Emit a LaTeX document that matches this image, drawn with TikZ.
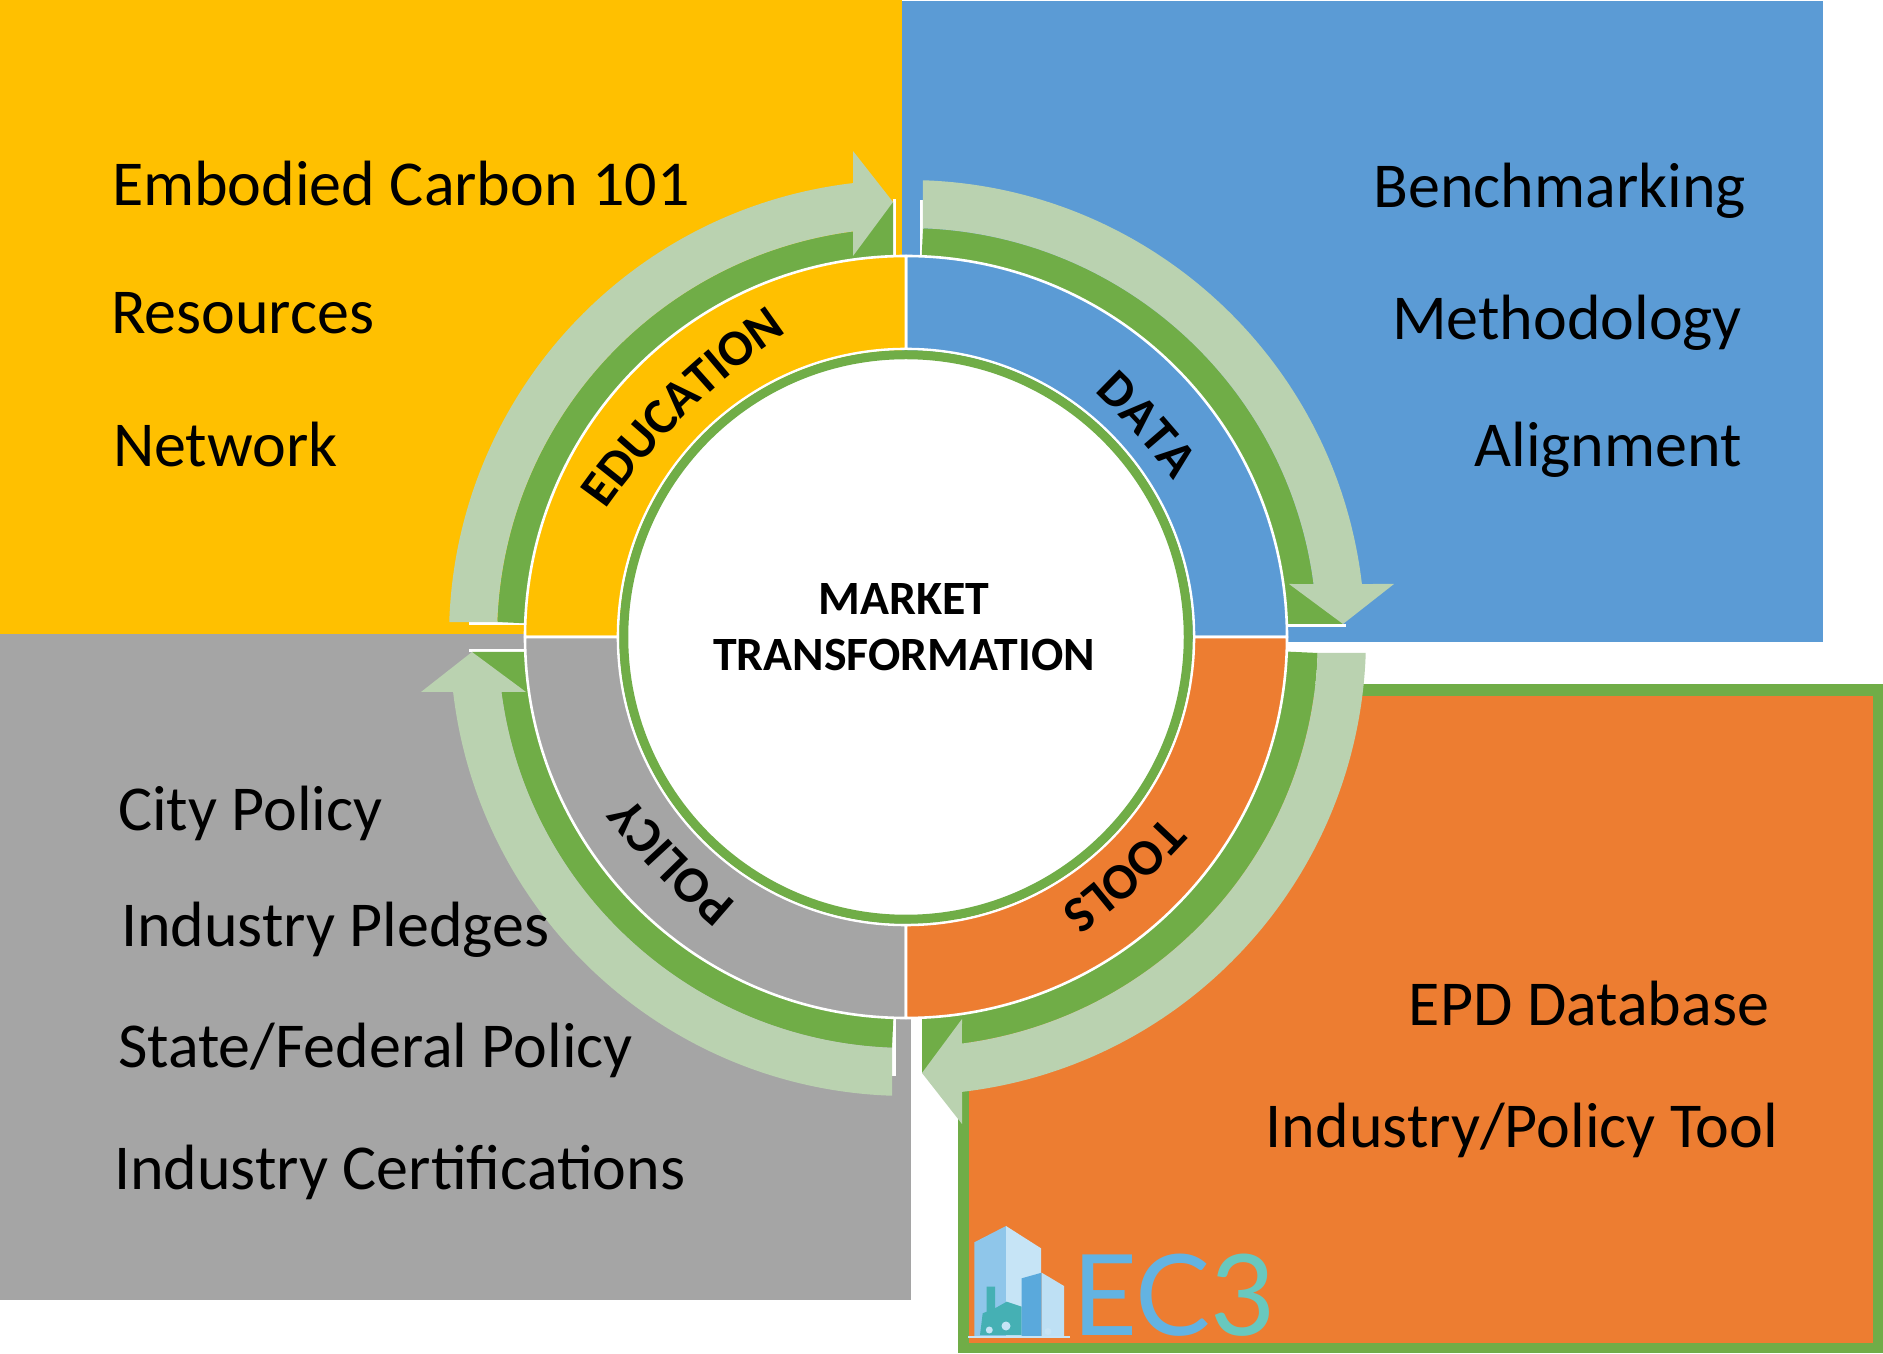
\documentclass[tikz,border=0pt]{standalone}
\usepackage{fontspec}
\setmainfont{Carlito}
\newfontfamily\logofont{Lato}
\usetikzlibrary{decorations.text}
\definecolor{cyellow}{HTML}{FFC000}
\definecolor{cblue}{HTML}{5B9BD5}
\definecolor{cgray}{HTML}{A5A5A5}
\definecolor{corange}{HTML}{ED7D31}
\definecolor{cdark}{HTML}{70AD47}
\definecolor{clight}{HTML}{BAD2B0}
\definecolor{lgA}{HTML}{8FC6EA}
\definecolor{lgB}{HTML}{C6E4F6}
\definecolor{lgC}{HTML}{5AA9DC}
\definecolor{lgD}{HTML}{BEE0F4}
\definecolor{lgE}{HTML}{45B0B4}
\definecolor{lgF}{HTML}{63B3E2}
\definecolor{lgG}{HTML}{68C8BE}
\newcommand\bodyfont{\fontsize{64}{70}\selectfont}
\newcommand\hubfont{\fontsize{47.8}{56}\selectfont\bfseries}
\newcommand\lblfont{\fontsize{51}{54}\selectfont\bfseries}
\tikzset{
  x=1pt,y=1pt,
  item/.style={inner sep=0pt,outer sep=0pt,font=\bodyfont,text=black},
  itemL/.style={item,anchor=base west},
  itemR/.style={item,anchor=base east},
  sector/.style={draw=white,line width=2.6pt,line join=round},
  hub/.style={circle,draw=cdark,line width=9pt,fill=white,inner sep=0pt,minimum size=564.5pt},
  hubtext/.style={inner sep=0pt,font=\hubfont,anchor=base,text=black},
}
% #1 rotation, #2 #3 position of the centre
\newcommand\circarrow[3]{%
\begin{scope}[shift={(#2,#3)},rotate=#1]
  \fill[white] (-437,11.5) rectangle (-340,15.5);
  \fill[white] (-13,340) rectangle (-10.4,438);
  \fill[cdark] (177.9:409) arc[start angle=177.9,end angle=97.44,radius=409]
     -- (-13,435) -- (-13,340) -- (92:340) arc[start angle=92,end angle=178,radius=340] -- cycle;
  \fill[clight] (178.12:457) arc[start angle=178.12,end angle=96.66,radius=457]
     -- (-53,486) -- (-13,435) -- (-53,381) -- (97.44:409)
     arc[start angle=97.44,end angle=177.9,radius=409] -- cycle;
\end{scope}}
\newcommand\ringsector[2]{%
  \filldraw[sector,fill=#1] (#2:381) arc[start angle=#2,delta angle=90,radius=381]
    -- ({#2+90}:288) arc[start angle={#2+90},delta angle=-90,radius=288] -- cycle;}
% #1 text, #2 direction of its middle seen from the centre, #3 offset; the base line is a flat arc
\newcommand\ringlabel[3]{%
  \begin{scope}[shift={#3},rotate={#2-90},shift={(0,-396)}]
  \path[decorate,decoration={text along path,text align=center,text={|\lblfont|#1}}]
    (112:700) arc[start angle=112,end angle=68,radius=700];
  \end{scope}}
\begin{document}
\begin{tikzpicture}
\useasboundingbox (0,0) rectangle (1883,1353);
\fill[white] (0,0) rectangle (1883,1353);
% panels
\fill[cyellow] (0,719) rectangle (902,1353);
\fill[cblue] (902,711) rectangle (1823,1352);
\fill[cgray] (0,53) rectangle (911,719);
\fill[cdark] (958,0) rectangle (1883,669);
\fill[corange] (969,10) rectangle (1873,657);
% arrows
\fill[white] (1285,699) rectangle (1400,711);
\circarrow{0}{906}{716}
\circarrow{-90}{908}{716}
\circarrow{-180}{909}{715}
\circarrow{-270}{907}{714}
% ring
\begin{scope}[shift={(906,716)}]
  \ringsector{cblue}{0}
  \ringsector{cyellow}{90}
  \ringsector{cgray}{180}
  \ringsector{corange}{270}
  \ringlabel{EDUCATION}{134.4}{(-5,7)}
  \ringlabel{DATA}{42}{(4,-1)}
  \ringlabel{TOOLS}{-48}{(5,-2)}
  \ringlabel{POLICY}{224}{(-6,-4)}
\end{scope}
\node[hub] (core) at (906,716) {};
\node[hubtext] (hubA) at (904,738) {MARKET};
\node[hubtext] (hubB) at (904,682) {TRANSFORMATION};
% panel texts
\node[itemL] (e1) at (112,1147) {Embodied Carbon 101};
\node[itemL] (e2) at (111,1019) {Resources};
\node[itemL] (e3) at (113,886) {Network};
\node[itemR] (d1) at (1746,1145) {Benchmarking};
\node[itemR] (d2) at (1742,1013) {Methodology};
\node[itemR] (d3) at (1742,886) {Alignment};
\node[itemL] (p1) at (118,522) {City Policy};
\node[itemL] (p2) at (121,406) {Industry Pledges};
\node[itemL] (p3) at (118,285) {State/Federal Policy};
\node[itemL] (p4) at (114,163) {Industry Certifications};
\node[itemR] (t1) at (1769,327) {EPD Database};
\node[itemR] (t2) at (1778,205) {Industry/Policy Tool};
% EC3 logo
\fill[lgA] (974.3,16.3) -- (974.3,110.7) -- (1006,127) -- (1006,16.3) -- cycle;
\fill[lgB] (1006,16.3) -- (1006,127) -- (1041,104.7) -- (1041,16.3) -- cycle;
\fill[lgE] (980,18) -- (982.7,39.7) -- (986.7,41.3) -- (986.7,66.3) -- (995,66.3) -- (995,44.7)
   -- (1006.7,51.3) -- (1021.7,46.3) -- (1021.7,18) -- cycle;
\fill[lgC] (1021.7,16.3) -- (1021.7,74.7) -- (1041.7,80.3) -- (1041.7,16.3) -- cycle;
\fill[lgD] (1041.7,16.3) -- (1041.7,80.3) -- (1064,67) -- (1064,16.3) -- cycle;
\fill[lgB] (989.3,23) circle[radius=3.5] (1006,27) circle[radius=4.5] (1048,21.5) circle[radius=3.5];
\draw[lgB,line width=1.2pt] (968,16) -- (1070,16);
\node[inner sep=0pt,anchor=base west,font=\logofont\fontsize{112.5}{114}\selectfont,text=lgF] (logo) at (1072,18)
  {EC\textcolor{lgG}{3}};
\end{tikzpicture}
\end{document}
